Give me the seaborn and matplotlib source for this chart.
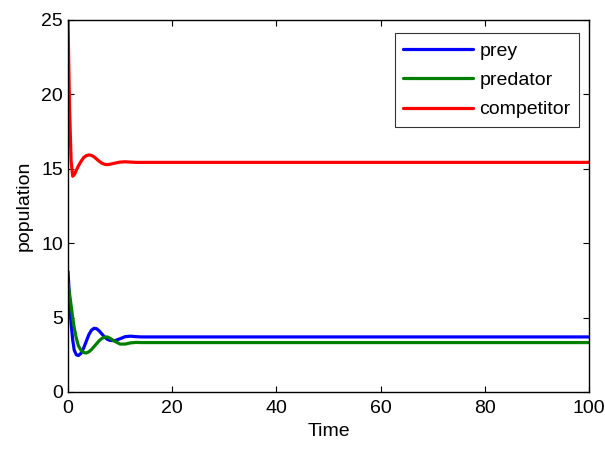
import numpy as np
import pandas as pd
import matplotlib
matplotlib.use("Agg")
import matplotlib.pyplot as plt
import seaborn as sns

# values
time = [0, 0.3, 0.6, 0.9, 1.2, 1.6, 2.0, 2.5, 3.0, 3.5, 4.0, 4.5, 5.0, 5.5,
        6.0, 6.5, 7.0, 7.5, 8, 9, 10, 11, 12, 13, 14, 15, 20, 100]
prey = [8.1, 6.2, 4.6, 3.5, 2.8, 2.5, 2.45, 2.6, 2.95, 3.4, 3.85, 4.15, 4.28, 4.25,
        4.1, 3.9, 3.7, 3.55, 3.47, 3.45, 3.58, 3.72, 3.75, 3.72, 3.7, 3.7, 3.7, 3.7]
predator = [7.3, 6.6, 5.8, 5.0, 4.3, 3.6, 3.1, 2.8, 2.65, 2.62, 2.7, 2.85, 3.05, 3.25,
            3.45, 3.6, 3.68, 3.7, 3.62, 3.4, 3.22, 3.22, 3.3, 3.33, 3.32, 3.32, 3.32, 3.32]
competitor = [25, 19, 15.5, 14.5, 14.6, 14.9, 15.2, 15.5, 15.75, 15.88, 15.93, 15.9, 15.8, 15.65,
              15.5, 15.38, 15.3, 15.28, 15.3, 15.38, 15.45, 15.47, 15.45, 15.43, 15.43, 15.43, 15.43, 15.43]

df = pd.concat([
    pd.DataFrame({"Time": time, "population": prey, "species": "prey"}),
    pd.DataFrame({"Time": time, "population": predator, "species": "predator"}),
    pd.DataFrame({"Time": time, "population": competitor, "species": "competitor"}),
])

sns.set_style("ticks", {"xtick.direction": "in", "ytick.direction": "in"})
plt.rcParams['font.family'] = ['Liberation Sans', 'DejaVu Sans']
plt.rcParams['text.color'] = 'black'
plt.rcParams['axes.labelcolor'] = 'black'
plt.rcParams['xtick.color'] = 'black'
plt.rcParams['ytick.color'] = 'black'

fig = plt.figure(figsize=(6.05, 4.49), dpi=100)
ax = fig.add_axes([0.1124, 0.127, 0.8612, 0.8285])

sns.lineplot(data=df, x="Time", y="population", hue="species", ax=ax,
             palette={"prey": "#0000ff", "predator": "#008000", "competitor": "#ff0000"},
             linewidth=2.3, sort=False, estimator=None)

ax.set_xlim(0, 100)
ax.set_ylim(0, 25)
ax.set_xticks([0, 20, 40, 60, 80, 100])
ax.set_yticks([0, 5, 10, 15, 20, 25])
ax.tick_params(axis="both", labelsize=14, top=True, right=True, length=4, width=0.8)
ax.tick_params(axis="x", pad=6)
ax.set_xlabel("Time", fontsize=14, labelpad=4)
ax.set_ylabel("population", fontsize=14, labelpad=6)
for s in ax.spines.values():
    s.set_linewidth(1.0)
    s.set_color("black")

leg = ax.legend(loc="upper right", fontsize=14, frameon=True, fancybox=False,
                handlelength=3.6, handletextpad=0.3, borderpad=0.45, labelspacing=0.6,
                bbox_to_anchor=(1.0, 0.99))
leg.get_frame().set_edgecolor("black")
leg.get_frame().set_linewidth(0.8)

fig.savefig("out.png", dpi=100)
